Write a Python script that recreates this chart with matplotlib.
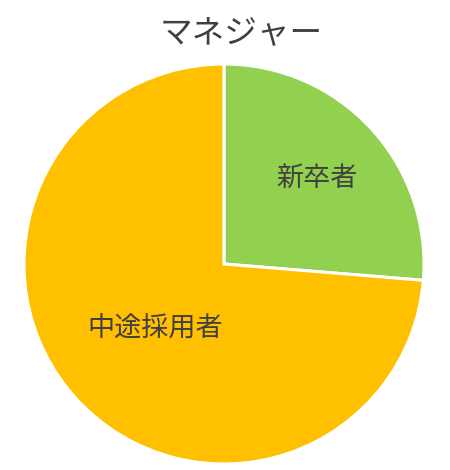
import matplotlib
matplotlib.use("Agg")
import matplotlib.pyplot as plt
import numpy as np

plt.rcParams['font.family'] = ['Noto Sans CJK JP', 'DejaVu Sans']

title = "マネジャー"
categories = ["新卒者", "中途採用者"]
values = [26.3, 73.7]
colors = ["#92D050", "#FFC000"]
label_dist = [0.63, 0.47]

fig = plt.figure(figsize=(4.5, 4.7), dpi=100)
ax = fig.add_axes([24/450, 6/470, 400/450, 400/470])
wedges, texts = ax.pie(values, labels=categories, colors=colors, startangle=90,
                       counterclock=False, radius=1.0,
                       wedgeprops=dict(edgecolor="white", linewidth=2.2),
                       labeldistance=0.5,
                       textprops=dict(fontsize=19.5, color="#404040"))
for w, t, d in zip(wedges, texts, label_dist):
    ang = np.deg2rad((w.theta1 + w.theta2) / 2)
    t.set_position((d * np.cos(ang), d * np.sin(ang)))
    t.set_ha("center")
    t.set_va("center")
ax.set_xlim(-1, 1)
ax.set_ylim(-1, 1)
ax.set_aspect("equal")
ax.axis("off")
fig.text(241/450, 1 - 34/470, title, ha="center", va="center", fontsize=23.5, color="#404040")
fig.savefig("out.png", dpi=100)
